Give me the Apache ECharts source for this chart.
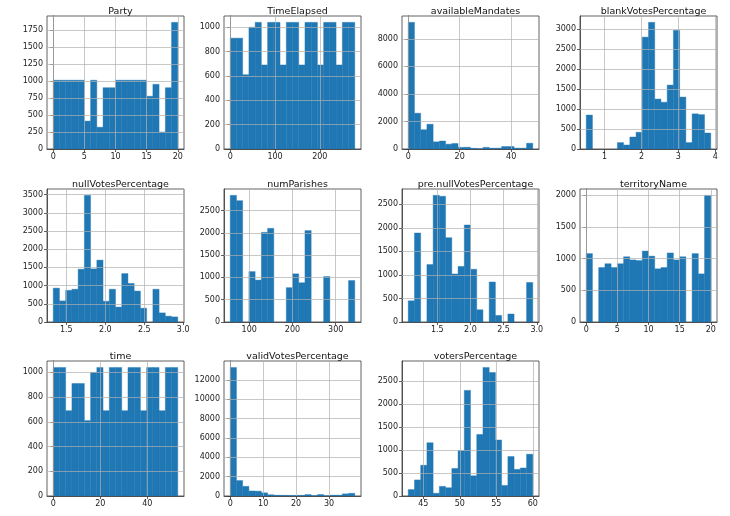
<!DOCTYPE html>
<html><head><meta charset="utf-8">
<script src="https://cdn.jsdelivr.net/npm/echarts@6/dist/echarts.min.js"></script>
<style>html,body{margin:0;padding:0;background:#fff}#c{width:730px;height:516px}</style>
</head><body><div id="c"></div>
<script>
const titles = ["Party","TimeElapsed","availableMandates","blankVotesPercentage","nullVotesPercentage","numParishes","pre.nullVotesPercentage","territoryName","time","validVotesPercentage","votersPercentage"];

const partyCounts = [1010,1010,1010,1010,1010,410,1010,320,900,900,1010,1010,1010,1010,1010,775,950,250,900,1860];
const timeElapsedCounts = [910,910,610,1000,1040,690,1040,1040,690,1040,1040,690,1040,1040,690,1040,1040,690,1040,1040];
const availableMandatesCounts = [9200,2600,1400,1800,520,580,350,400,120,130,50,20,120,60,60,180,180,60,60,420];
const blankVotesCounts = [850,0,0,0,0,160,100,300,420,2800,3170,1250,1170,1600,2970,1300,160,880,860,400];
const nullVotesCounts = [930,580,870,900,1450,3480,1460,1700,570,900,410,1330,1060,850,380,0,900,250,160,140];
const numParishesCounts = [2840,2720,0,1130,940,2010,2100,0,0,770,1080,880,2050,0,0,1020,0,0,0,930];
const preNullVotesCounts = [450,1890,0,1220,2690,2670,1790,1020,1180,2060,1120,260,0,850,140,0,170,0,0,840];
const territoryNameCounts = [1080,0,860,920,860,920,1030,980,970,1120,1040,840,860,1090,980,1030,0,1080,760,2000];
const timeCounts = [1040,1040,690,910,910,610,1000,1040,690,1040,1040,690,1040,1040,690,1040,1040,690,1040,1040];
const validVotesCounts = [13300,1600,1000,520,500,330,130,80,70,60,60,70,150,40,150,30,80,80,220,280];
const votersCounts = [140,350,670,1160,60,210,180,600,990,2300,440,1340,2800,2690,1220,230,860,580,610,910];

const allCounts = [partyCounts,timeElapsedCounts,availableMandatesCounts,blankVotesCounts,nullVotesCounts,numParishesCounts,preNullVotesCounts,territoryNameCounts,timeCounts,validVotesCounts,votersCounts];

// data range (min, max) of each column
const dataRanges = [[0,20],[0,278],[0,48.4],[0.5,3.88],[1.333,2.93],[56,344],[1.062,2.94],[0,20],[0,53],[0,37.8],[42.94,60]];

const xTickValues = [[0,5,10,15,20],[0,100,200],[0,20,40],[1,2,3,4],[1.5,2.0,2.5,3.0],[100,200,300],[1.5,2.0,2.5,3.0],[0,5,10,15,20],[0,20,40],[0,10,20,30],[45,50,55,60]];
const xTickDecimals = [0,0,0,0,1,0,1,0,0,0,0];
const yTickValues = [
  [0,250,500,750,1000,1250,1500,1750],
  [0,200,400,600,800,1000],
  [0,2000,4000,6000,8000],
  [0,500,1000,1500,2000,2500,3000],
  [0,500,1000,1500,2000,2500,3000,3500],
  [0,500,1000,1500,2000,2500],
  [0,500,1000,1500,2000,2500],
  [0,500,1000,1500,2000],
  [0,200,400,600,800,1000],
  [0,2000,4000,6000,8000,10000,12000],
  [0,500,1000,1500,2000,2500]
];

const colLefts = [47,224,402,580];
const rowTops = [16,189,361];
const panelW = 137, panelH = [133,133,135];
const FONT = 'DejaVu Sans';

const chart = echarts.init(document.getElementById('c'), null, {renderer:'canvas'});
const grids=[], xAxes=[], yAxes=[], series=[], titleOpts=[];

function renderItem(params, api){
  const x0 = api.value(0), x1 = api.value(1), c = api.value(2);
  if (!c) return null;
  const p0 = api.coord([x0, c]);
  const p1 = api.coord([x1, 0]);
  return {type:'rect', shape:{x:p0[0], y:p0[1], width:p1[0]-p0[0], height:p1[1]-p0[1]}, style:{fill:'#1f77b4', stroke:'#1f77b4', lineWidth:0.4}};
}

const gridLineStyle = {color:'#b0b0b0', width:0.7, type:'solid'};

titles.forEach((t,i)=>{
  const r = Math.floor(i/4), c = i%4;
  const left = colLefts[c], top = rowTops[r], h = panelH[r];
  grids.push({left:left, top:top, width:panelW, height:h, show:true, borderColor:'#3a3a3a', borderWidth:0.8, backgroundColor:'transparent', containLabel:false});
  const [mn,mx] = dataRanges[i];
  const R = mx-mn;
  const counts = allCounts[i];
  const n = counts.length;
  const data = counts.map((v,k)=>[mn + R*k/n, mn + R*(k+1)/n, v]);
  const ymax = Math.max(...counts)*1.05;
  const dec = xTickDecimals[i];
  xAxes.push({
    gridIndex:i, type:'value', min:mn-0.05*R, max:mx+0.05*R, z:3,
    axisLine:{show:true, onZero:false, lineStyle:{color:'#3a3a3a', width:0.8}},
    axisTick:{show:true, length:3, customValues:xTickValues[i], lineStyle:{color:'#3a3a3a', width:0.8}},
    axisLabel:{customValues:xTickValues[i], fontFamily:FONT, fontSize:8, color:'#222', margin:4, formatter:v=>Number(v).toFixed(dec)},
    splitLine:{show:false}
  });
  yAxes.push({
    gridIndex:i, type:'value', min:0, max:ymax, z:3,
    axisLine:{show:true, lineStyle:{color:'#3a3a3a', width:0.8}},
    axisTick:{show:true, length:3, customValues:yTickValues[i], lineStyle:{color:'#3a3a3a', width:0.8}},
    axisLabel:{customValues:yTickValues[i], fontFamily:FONT, fontSize:8, color:'#222', margin:4, formatter:v=>String(Math.round(v))},
    splitLine:{show:false}
  });
  const lines = xTickValues[i].map(v=>({xAxis:v})).concat(yTickValues[i].filter(v=>v>0).map(v=>({yAxis:v})));
  series.push({type:'custom', xAxisIndex:i, yAxisIndex:i, renderItem:renderItem, data:data, encode:{x:[0,1], y:2}, z:2, animation:false, silent:true,
    markLine:{silent:true, symbol:'none', animation:false, label:{show:false}, lineStyle:gridLineStyle, emphasis:{disabled:true}, data:lines}});
  titleOpts.push({text:t, left:left+panelW/2, top:top-14, textAlign:'center', textStyle:{fontFamily:FONT, fontSize:9.5, fontWeight:'normal', color:'#111'}});
});

chart.setOption({animation:false, title:titleOpts, grid:grids, xAxis:xAxes, yAxis:yAxes, series:series});
</script></body></html>
